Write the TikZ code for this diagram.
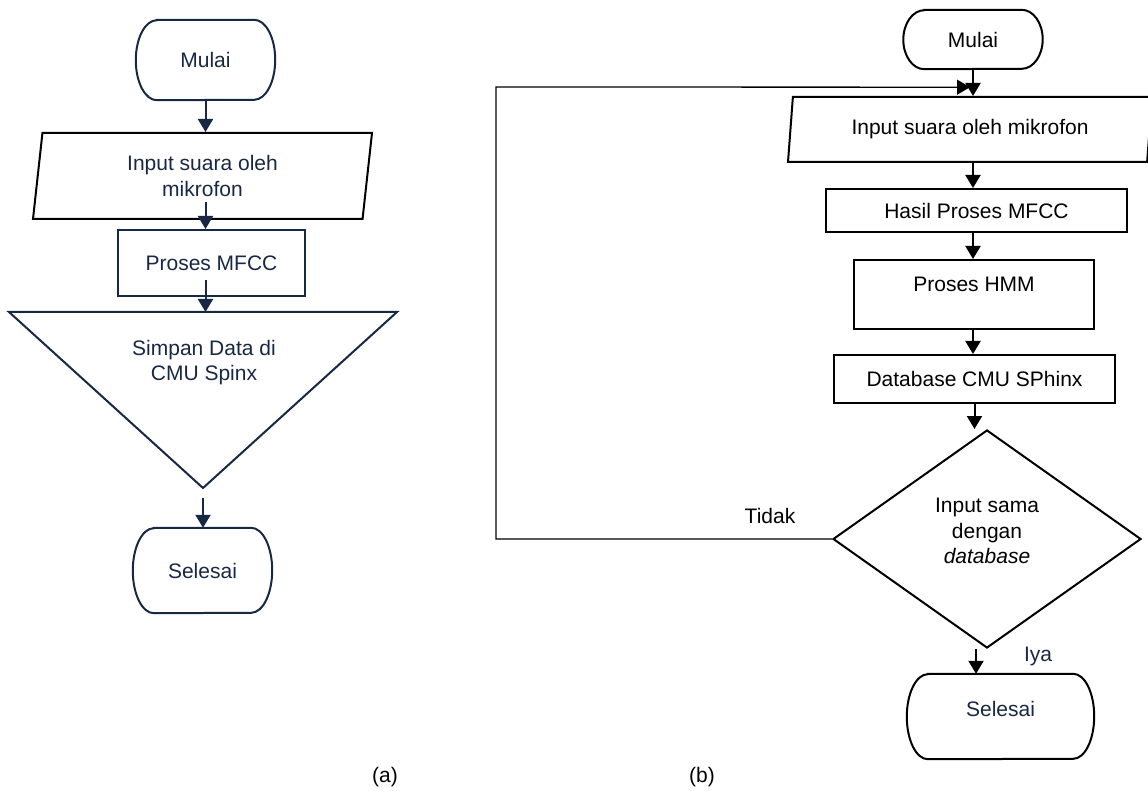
\documentclass[tikz,border=0pt]{standalone}
\usepackage{fontspec}
\setmainfont{Liberation Sans}
\usepackage{xcolor}
\usepackage{tikz}
\usetikzlibrary{shapes.geometric, arrows.meta, positioning}
\definecolor{fcnavy}{RGB}{24,40,68}
% outline of a start/end box: flat top and bottom, half-ellipse ends
\newcommand{\termedge}[3][]{%
  \draw[line width=2pt,#1] ([xshift=21pt]#2.north west) -- ([xshift=-21pt]#2.north east)
    arc[start angle=90, end angle=-90, x radius=21pt, y radius=#3]
    -- ([xshift=21pt]#2.south west)
    arc[start angle=270, end angle=90, x radius=21pt, y radius=#3] -- cycle;}

\begin{document}
\begin{tikzpicture}[x=1pt, y=-1pt,
    every node/.style={font=\fontsize{21}{25.5}\selectfont},
    term/.style={rectangle, inner sep=0pt},
    io/.style={draw, trapezium, trapezium left angle=77, trapezium right angle=103,
        trapezium stretches body, line width=2pt, inner sep=0pt, align=center},
    proc/.style={draw, rectangle, line width=2pt, inner sep=0pt, align=center},
    decision/.style={draw, diamond, aspect=1.41, line width=2pt, inner sep=0pt},
    arr/.style={line width=2pt, -{Triangle[width=15pt,length=13pt]}},
    loopline/.style={line width=1.3pt, -{Triangle[width=15pt,length=13pt]}}]
\useasboundingbox (0,0) rectangle (1148,791);

% (a) simpan data
\node[term, text=fcnavy, minimum width=139pt, minimum height=80pt] (mulaia) at (205.5,60) {Mulai};
\node[io, text=fcnavy, minimum width=339pt, minimum height=86pt] (paraa) at (202.5,176) {Input suara oleh\\mikrofon};
\node[proc, draw=fcnavy, text=fcnavy, minimum width=187pt, minimum height=66pt] (mfcc) at (211.5,263) {Proses MFCC};
\draw[fcnavy, line width=2pt] (9,312) -- (397,312) -- (203,488) -- cycle;
\coordinate (simpantop) at (203,312);
\coordinate (simpanapex) at (203,488);
\node[text=fcnavy, align=center] (simpan) at (204,362.5) {Simpan Data di\\CMU Spinx};
\node[term, text=fcnavy, minimum width=139pt, minimum height=85pt] (selesaia) at (202.5,570.5) {Selesai};
\termedge[fcnavy]{mulaia}{40pt}
\termedge[fcnavy]{selesaia}{42.5pt}

\draw[arr, fcnavy] (mulaia.south) -- (mulaia.south |- paraa.north);
\draw[arr, fcnavy] ([yshift=18pt]mulaia.south |- paraa.south) -- (mulaia.south |- mfcc.north);
\draw[arr, fcnavy] ([yshift=17pt]mulaia.south |- mfcc.south) -- (mulaia.south |- simpantop);
\draw[arr, fcnavy] ([yshift=-10pt]simpanapex) -- (simpanapex |- selesaia.north);

% (b) pengenalan suara
\node[term, minimum width=139pt, minimum height=59pt] (mulaib) at (973,39.5) {Mulai};
\node[io, trapezium left angle=76, trapezium right angle=104, minimum width=364pt, minimum height=65pt] (parab) at (970,129.5) {Input suara oleh mikrofon};
\node[proc, minimum width=301pt, minimum height=43pt] (hasil) at (976.5,210.5) {Hasil Proses MFCC};
\node[proc, minimum width=240pt, minimum height=69pt, text depth=21pt] (hmm) at (974,294.5) {Proses HMM};
\node[proc, minimum width=281pt, minimum height=48pt] (db) at (974.5,379) {Database CMU SPhinx};
\node[decision, minimum width=308pt, minimum height=218pt,
    label={[align=center, yshift=8pt]center:Input sama\\dengan\\\textit{database}}] (dec) at (987,539) {};
\node[term, text=fcnavy, minimum width=187pt, minimum height=85pt, text depth=16pt] (selesaib) at (1000.5,716.5) {Selesai};
\termedge{mulaib}{29.5pt}
\termedge{selesaib}{42.5pt}
\node (tidak) at (770,516) {Tidak};
\node[text=fcnavy] (iya) at (1038,656) {Iya};
\coordinate (loopx) at (496,87);

\draw[arr] (mulaib.south) -- (mulaib.south |- parab.north);
\draw[arr] (mulaib.south |- parab.south) -- (mulaib.south |- hasil.north);
\draw[arr] (mulaib.south |- hasil.south) -- (mulaib.south |- hmm.north);
\draw[arr] (mulaib.south |- hmm.south) -- (mulaib.south |- db.north);
\draw[arr] (db.south) -- (db.south |- dec.north);
\draw[arr] ([xshift=-11pt]dec.south) -- ([xshift=-11pt]dec.south |- selesaib.north);
\draw[loopline] (dec.west) -| (loopx) -- ([xshift=-3pt,yshift=-18pt]mulaib.south);

% captions
\node (capa) at (385,777) {(a)};
\node (capb) at (702,777) {(b)};
\end{tikzpicture}
\end{document}
